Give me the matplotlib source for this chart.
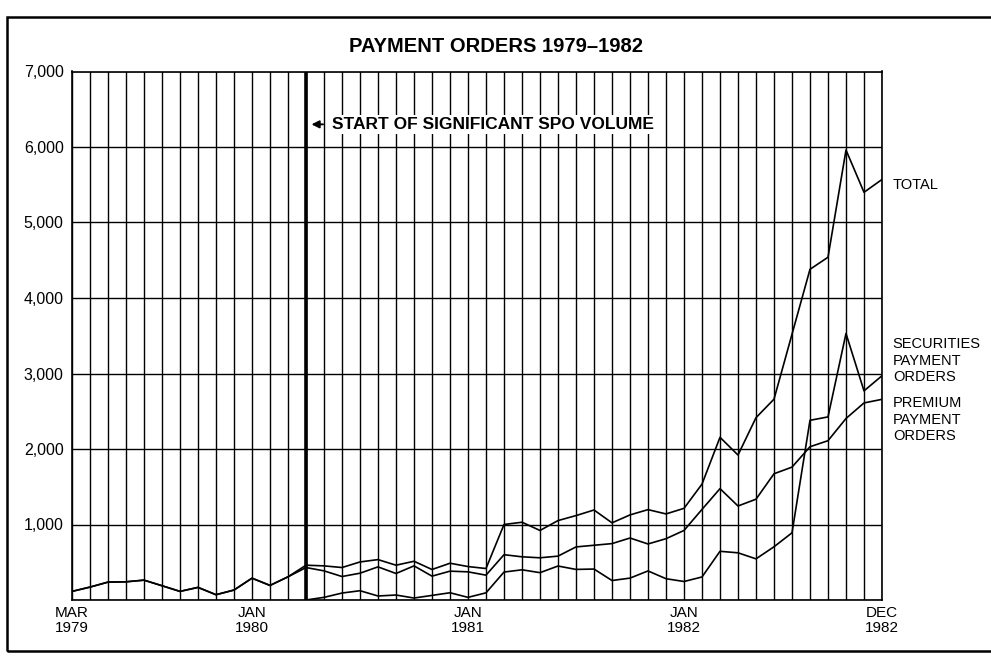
import matplotlib
matplotlib.use("Agg")
import matplotlib.pyplot as plt
from matplotlib.patches import Rectangle

plt.rcParams['font.family'] = ['Liberation Sans', 'DejaVu Sans']

# monthly values, Mar 1979 .. Dec 1982 (46 months)
months = ['MAR 79', 'APR 79', 'MAY 79', 'JUN 79', 'JUL 79', 'AUG 79', 'SEP 79', 'OCT 79',
          'NOV 79', 'DEC 79', 'JAN 80', 'FEB 80', 'MAR 80', 'APR 80', 'MAY 80', 'JUN 80',
          'JUL 80', 'AUG 80', 'SEP 80', 'OCT 80', 'NOV 80', 'DEC 80', 'JAN 81', 'FEB 81',
          'MAR 81', 'APR 81', 'MAY 81', 'JUN 81', 'JUL 81', 'AUG 81', 'SEP 81', 'OCT 81',
          'NOV 81', 'DEC 81', 'JAN 82', 'FEB 82', 'MAR 82', 'APR 82', 'MAY 82', 'JUN 82',
          'JUL 82', 'AUG 82', 'SEP 82', 'OCT 82', 'NOV 82', 'DEC 82']

total = [114, 171, 237, 241, 263, 189, 114, 167, 70, 132, 289, 193, 307,
         461, 452, 430, 504, 535, 461, 513, 404, 487, 443, 417,
         1000, 1030, 921, 1052, 1118, 1192, 1022, 1127, 1197, 1140,
         1214, 1535, 2155, 1920, 2415, 2660, 3520, 4380, 4540, 5960, 5400, 5570]

# premium orders = total until securities orders begin (Apr 80)
premium = [114, 171, 237, 241, 263, 189, 114, 167, 70, 132, 289, 193, 307,
           430, 386, 311, 355, 439, 351, 452, 316, 382, 373, 329,
           600, 572, 559, 581, 703, 725, 747, 821, 742, 812,
           921, 1200, 1475, 1245, 1335, 1672, 1760, 2030, 2110, 2404, 2610, 2658]

# securities orders, Apr 80 .. Dec 82
sec_start = 13
securities = [0, 35, 92, 123, 53, 66, 26, 61, 96, 35, 95,
              370, 400, 362, 450, 405, 410, 258, 290, 385, 282,
              245, 305, 645, 625, 545, 705, 890, 2380, 2425, 3530, 2770, 2970]

label_idx = [0, 10, 22, 34, 45]
label_txt = ['MAR\n1979', 'JAN\n1980', 'JAN\n1981', 'JAN\n1982', 'DEC\n1982']
yticks = [0, 1000, 2000, 3000, 4000, 5000, 6000, 7000]
ylabels = ['', '1,000', '2,000', '3,000', '4,000', '5,000', '6,000', '7,000']

fig = plt.figure(figsize=(9.91, 6.57), dpi=100)
ax = fig.add_axes([72 / 991, 57 / 657, 810 / 991, 528.5 / 657])

x = list(range(len(months)))
xs = list(range(sec_start, sec_start + len(securities)))
ax.plot(x, total, color='black', lw=1.2)
ax.plot(x, premium, color='black', lw=1.2)
ax.plot(xs, securities, color='black', lw=1.2)

ax.set_xlim(0, len(months) - 1)
ax.set_ylim(0, 7000)
ax.set_xticks(x, minor=True)
ax.set_xticks(label_idx)
ax.set_xticklabels(label_txt, fontsize=11, linespacing=1.1)
ax.set_yticks(yticks)
ax.set_yticklabels(ylabels, fontsize=11.5)
ax.tick_params(which='both', length=0)
ax.tick_params(axis='y', pad=6)
ax.tick_params(axis='x', pad=4)
ax.grid(True, which='both', axis='x', color='black', lw=1.0)
ax.grid(True, which='major', axis='y', color='black', lw=1.0)
for s in ax.spines.values():
    s.set_linewidth(1.2)

# start of SPO volume
ax.axvline(sec_start, color='black', lw=2.6)
ax.annotate('', xy=(sec_start + 0.15, 6300), xytext=(sec_start + 1.1, 6300),
            arrowprops=dict(arrowstyle='-|>', color='black', lw=1.4, mutation_scale=11))
ax.text(sec_start + 1.45, 6300, 'START OF SIGNIFICANT SPO VOLUME', fontsize=12.5,
        fontweight='bold', va='center', ha='left',
        bbox=dict(facecolor='white', edgecolor='none', pad=1.5))

# series labels
ax.text(45.6, 5500, 'TOTAL', fontsize=10.5, va='center', ha='left', clip_on=False)
ax.text(45.6, 3170, 'SECURITIES\nPAYMENT\nORDERS', fontsize=10.5, va='center', ha='left',
        linespacing=1.2, clip_on=False)
ax.text(45.6, 2390, 'PREMIUM\nPAYMENT\nORDERS', fontsize=10.5, va='center', ha='left',
        linespacing=1.2, clip_on=False)

fig.text(496 / 991, 1 - 47 / 657, 'PAYMENT ORDERS 1979\u20131982', fontsize=14.5,
         fontweight='heavy', ha='center', va='center')

# page frame
fig.patches.append(Rectangle((7 / 991, 6 / 657), 1.1, 634 / 657, transform=fig.transFigure,
                             fill=False, edgecolor='black', lw=1.8))

fig.savefig('out.png', dpi=100)
